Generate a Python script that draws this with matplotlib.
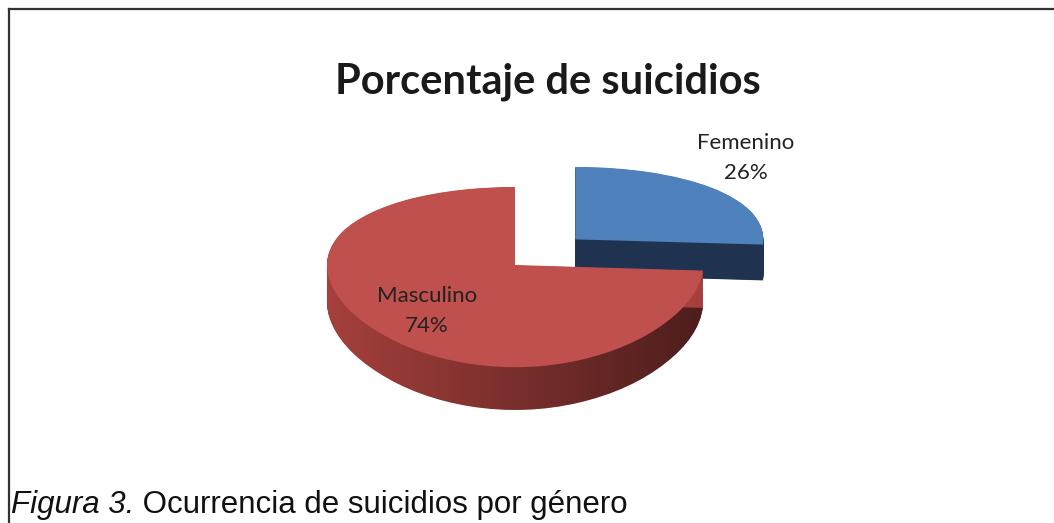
import numpy as np
import matplotlib
matplotlib.use("Agg")
import matplotlib.pyplot as plt
import matplotlib.transforms as mtransforms
from matplotlib.lines import Line2D

# data
labels = ["Femenino", "Masculino"]
values = [26, 74]
pct_text = ["26%", "74%"]
explode = [0.44, 0.0]

W, H = 1054, 523
RX, RY = 188.0, 88.5          # pixels per data unit on the pie plane
APEX = (515, 265)             # pixel position of pie centre
K_PERSP = 0.134               # far side drawn smaller than near side
DEPTH_PX = 37                 # thickness of the pie at the centre line

top_colors = ["#4F81BD", "#C0504D"]
wall_colors = ["#1F3350", "#A5403C"]


class Perspective(mtransforms.Transform):
    """Vertical foreshortening of the pie plane (y>0 far, y<0 near),
    plus a drop that gives the pie its thickness."""
    input_dims = output_dims = 2
    is_separable = False
    has_inverse = False

    def __init__(self, k, drop=0.0):
        super().__init__()
        self.k = k
        self.drop = drop

    def transform_non_affine(self, values):
        values = np.asarray(values, dtype=float)
        u, v = values[:, 0], values[:, 1]
        s = 1.0 / (1.0 + self.k * v)
        return np.column_stack([u, (v - self.drop) * s])


fig = plt.figure(figsize=(W / 100, H / 100), dpi=100)
ax = fig.add_axes([0, 0, 1, 1])


def layer(drop_px, colors, zorders):
    wedges, _ = ax.pie(values, explode=explode, startangle=90, counterclock=False,
                       colors=colors, radius=1.0,
                       wedgeprops=dict(linewidth=0, antialiased=True))
    tr = Perspective(K_PERSP, drop_px / RY) + ax.transData
    for w, z in zip(wedges, zorders):
        w.set_transform(tr)
        w.set_zorder(z)
    return wedges


# side walls, drawn from the bottom up
bottom_masc = None
for d in np.linspace(DEPTH_PX, 0.5, 2 * DEPTH_PX):
    w = layer(d, wall_colors, [1.0, 1.1])
    if bottom_masc is None:
        bottom_masc = w[1]

# horizontal shading on the masculino wall
grad = np.zeros((2, 256, 4))
grad[..., 3] = np.linspace(0.0, 0.55, 256)[None, :]
im = ax.imshow(grad, extent=(-1.0, 1.05, -2.2, 0.3), aspect="auto",
               interpolation="bilinear", zorder=1.2)
im.set_clip_path(bottom_masc)

# top faces
layer(0, top_colors, [2.1, 2.0])

ax.set_xlim(-APEX[0] / RX, (W - APEX[0]) / RX)
ax.set_ylim(-(H - APEX[1]) / RY, APEX[1] / RY)
ax.set_aspect("auto")
ax.axis("off")

# data labels (pixel positions)
lab_font = dict(family="Lato", fontsize=16, color="#222222", ha="center",
                va="center", linespacing=1.6)
lab_pos = [(746, 158), (427, 311)]
for name, pct, (px, py) in zip(labels, pct_text, lab_pos):
    fig.text(px / W, 1 - py / H, f"{name}\n{pct}", zorder=5, **lab_font)

fig.text(548 / W, 1 - 82 / H, "Porcentaje de suicidios", family="Lato",
         fontweight="bold", fontsize=30, color="#1a1a1a", ha="center", va="center")

# frame lines (top and left only)
fig.add_artist(Line2D([9 / W, 1], [1 - 9 / H, 1 - 9 / H], color="#333333", lw=1.6))
fig.add_artist(Line2D([9 / W, 9 / W], [0, 1 - 9 / H], color="#333333", lw=1.6))

# caption
cap_y = 1 - 513 / H
t1 = fig.text(11 / W, cap_y, "Figura 3.", family="Liberation Sans", style="italic",
              fontsize=22.5, color="#111111", ha="left", va="baseline")
fig.canvas.draw()
bb = t1.get_window_extent(fig.canvas.get_renderer())
fig.text(bb.x1 / W, cap_y, " Ocurrencia de suicidios por género", family="Liberation Sans",
         fontsize=22.5, color="#111111", ha="left", va="baseline")

fig.savefig("out.png", dpi=100, facecolor="white")
